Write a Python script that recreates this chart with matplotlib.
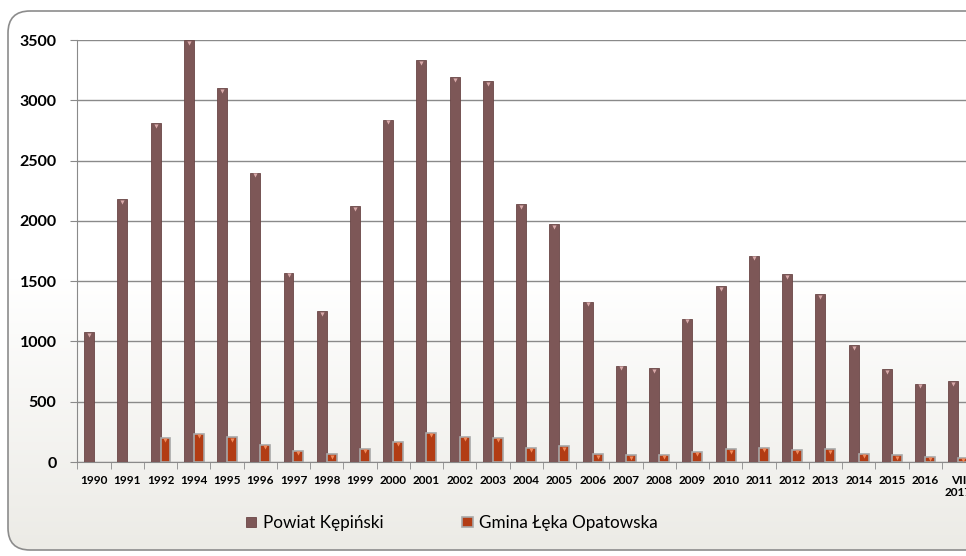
import numpy as np
from matplotlib import pyplot as plt
from matplotlib.colors import LinearSegmentedColormap
from matplotlib.patches import FancyBboxPatch

years = ['1990', '1991', '1992', '1994', '1995', '1996', '1997', '1998', '1999',
         '2000', '2001', '2002', '2003', '2004', '2005', '2006', '2007', '2008',
         '2009', '2010', '2011', '2012', '2013', '2014', '2015', '2016', 'VII\n2017']
powiat = [1075, 2180, 2810, 3500, 3100, 2400, 1570, 1250, 2120, 2840, 3330, 3190,
          3160, 2140, 1970, 1330, 800, 780, 1190, 1460, 1710, 1560, 1390, 970,
          770, 650, 670]
gmina = [0, 0, 200, 235, 205, 145, 95, 65, 110, 170, 240, 210, 200, 120, 130,
         65, 55, 60, 85, 105, 120, 100, 105, 70, 55, 45, 35]

plt.rcParams['font.family'] = ['Lato', 'DejaVu Sans']

fig = plt.figure(figsize=(9.66, 5.56), dpi=100)

# background with rounded frame and soft vertical gradient
bg = fig.add_axes([0, 0, 1, 1])
bg.set_xlim(0, 966)
bg.set_ylim(556, 0)
bg.axis('off')
grad = np.linspace(0, 1, 256).reshape(-1, 1)
cmap = LinearSegmentedColormap.from_list('bg', ['#ffffff', '#ffffff', '#ecebe6'])
img = bg.imshow(grad, extent=(8, 1000, 550, 11), cmap=cmap, aspect='auto', zorder=0)
frame = FancyBboxPatch((8, 11), 1000, 539, boxstyle='round,pad=0,rounding_size=22',
                       facecolor='none', edgecolor='#8c8c8c', linewidth=1.2, zorder=1)
bg.add_patch(frame)
img.set_clip_path(frame)

ax = fig.add_axes([77.4 / 966, 94 / 556, (975 - 77.4) / 966, 422 / 556])
ax.patch.set_alpha(0)

x = np.arange(len(years))
w = 0.3
g = np.array(gmina)
m = g > 0
ax.bar(x - w / 2, powiat, w, color='#7d5757', edgecolor='#6a4646', linewidth=0.6,
       label='Powiat Kępiński', zorder=3)
ax.bar(x + w / 2, gmina, w, color='#b23c14',
       edgecolor=['#a8a8a8' if v else 'none' for v in m], linewidth=1.2,
       label='Gmina Łęka Opatowska', zorder=3)
# small highlight triangles on bar tops
ax.scatter(x - w / 2, np.array(powiat) - 22, marker='v', s=9, color='#d9aaaa',
           linewidths=0, zorder=4, clip_on=False)
ax.scatter((x + w / 2)[m], g[m] - 20, marker='v', s=9, color='#f28a5a',
           linewidths=0, zorder=4)

ax.set_xlim(-0.5, len(years) - 0.5)
ax.set_ylim(0, 3500)
ax.set_yticks(range(0, 3501, 500))
ax.yaxis.grid(True, color='#8a8a8a', linewidth=1.0, zorder=0)
ax.set_axisbelow(True)
for s in ['top', 'right']:
    ax.spines[s].set_visible(False)
ax.spines['left'].set_color('#8a8a8a')
ax.spines['bottom'].set_color('#8a8a8a')

ax.set_xticks(x)
ax.set_xticklabels(years, fontsize=8.5, fontweight='bold')
ax.tick_params(axis='x', length=0, pad=9)
ax.set_xticks(np.arange(-0.5, len(years), 1), minor=True)
ax.tick_params(axis='x', which='minor', length=5, color='#8a8a8a')
ax.tick_params(axis='y', length=5, color='#8a8a8a', labelsize=11.5, pad=10)
for t in ax.get_yticklabels():
    t.set_fontweight('bold')

leg = fig.legend(loc='center', bbox_to_anchor=(0.468, 1 - 523 / 556), ncol=2,
                 frameon=False, fontsize=12.3, handlelength=0.6, handleheight=0.6,
                 handletextpad=0.4, columnspacing=4.6)
leg.legend_handles[1].set_edgecolor('#a8a8a8')

fig.savefig('out.png', dpi=100)
